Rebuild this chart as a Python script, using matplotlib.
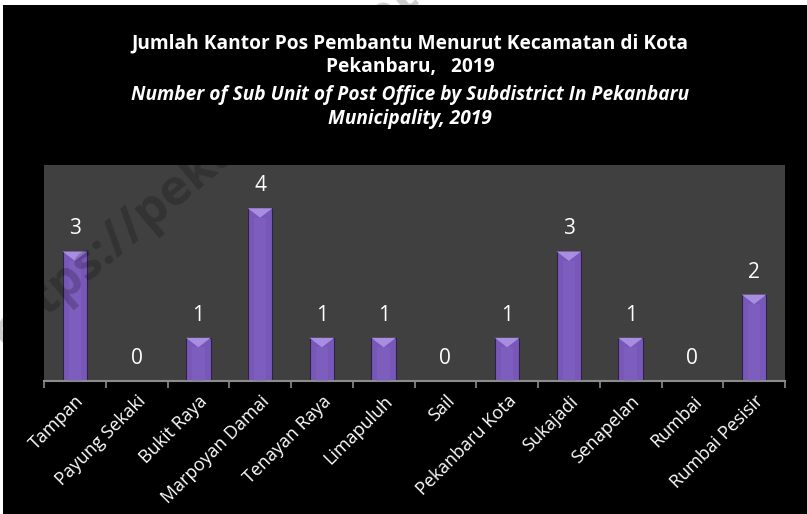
import numpy as np
import matplotlib
matplotlib.use('Agg')
from matplotlib import pyplot as plt
from matplotlib.patches import Rectangle, Polygon

# data
kecamatan = ['Tampan', 'Payung Sekaki', 'Bukit Raya', 'Marpoyan Damai', 'Tenayan Raya',
             'Limapuluh', 'Sail', 'Pekanbaru Kota', 'Sukajadi', 'Senapelan', 'Rumbai',
             'Rumbai Pesisir']
jumlah = [3, 0, 1, 4, 1, 1, 0, 1, 3, 1, 0, 2]

title_id = 'Jumlah Kantor Pos Pembantu Menurut Kecamatan di Kota\nPekanbaru,   2019'
title_en = 'Number of Sub Unit of Post Office by Subdistrict In Pekanbaru\nMunicipality, 2019'

fig = plt.figure(figsize=(8.07, 5.14), dpi=100)
fig.patch.set_facecolor('white')
# black chart area, white strip top and left
fig.add_artist(Rectangle((3 / 807, 0), 1, 509 / 514, transform=fig.transFigure,
                         facecolor='black', edgecolor='none', zorder=0))

ax = fig.add_axes([44 / 807, 1 - 381 / 514, 741 / 807, 216 / 514])
ax.set_facecolor('#404040')

x = np.arange(len(kecamatan))
bars = ax.bar(x, jumlah, width=0.4, color='#7757b8', edgecolor='#2e2146', linewidth=0.8, zorder=2)

# lighter bevel on top of each bar
for b in bars:
    if b.get_height() <= 0:
        continue
    x0, w, h = b.get_x(), b.get_width(), b.get_height()
    ax.add_patch(Polygon([(x0, h), (x0 + w, h), (x0 + w / 2, h - 0.22)], closed=True,
                         facecolor='#a98de0', edgecolor='none', zorder=3))
    ax.add_patch(Rectangle((x0 + w * 0.25, 0), w * 0.5, h - 0.22, facecolor='#8466c4',
                           edgecolor='none', alpha=0.5, zorder=3))

for xi, v in zip(x, jumlah):
    ax.text(xi, v + 0.28, str(v), ha='center', va='bottom', color='white',
            fontsize=15, family='Open Sans')

ax.set_xlim(-0.5, len(kecamatan) - 0.5)
ax.set_ylim(0, 5)
ax.set_yticks([])
ax.set_xticks(np.append(x - 0.5, len(kecamatan) - 0.5))
ax.set_xticklabels([])
ax.tick_params(axis='x', which='major', color='#8c8c8c', length=5, width=1.2, direction='out')
ax.set_xticks(x, minor=True)
ax.set_xticklabels(kecamatan, minor=True, rotation=45, ha='right', rotation_mode='anchor',
                   color='white', fontsize=13, family='Open Sans')
ax.tick_params(axis='x', which='minor', length=0, pad=8)
for s in ['top', 'left', 'right']:
    ax.spines[s].set_visible(False)
ax.spines['bottom'].set_color('#8c8c8c')
ax.spines['bottom'].set_linewidth(1.5)

fig.text(0.508, 1 - 33 / 514, title_id, ha='center', va='top', color='white',
         fontsize=13.8, fontweight='bold', family='Open Sans', linespacing=1.25, zorder=5)
fig.text(0.508, 1 - 85 / 514, title_en, ha='center', va='top', color='white',
         fontsize=13.8, fontweight='bold', style='italic', family='Open Sans', linespacing=1.25,
         zorder=5)

# faint watermark (runs off the picture, as in the source), kept under the title
fig.text(4 / 807, 1 - 350 / 514, 'https://pekanbarukota.bps.go.id', color='black', alpha=0.2,
         fontsize=36, fontweight='bold', rotation=40, ha='left', va='baseline',
         rotation_mode='anchor', family='Open Sans', zorder=2)

fig.savefig('out.png', dpi=100, facecolor=fig.get_facecolor())
